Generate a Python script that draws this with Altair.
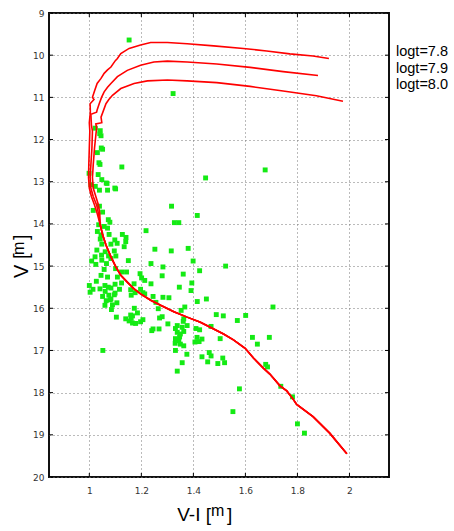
import altair as alt
import pandas as pd

# ---------------- data ----------------
star_vi = [1.153, 1.322, 1.023, 1.042, 1.045, 1.051, 1.031, 1.041, 1.125, 1.676,
           0.999, 1.034, 1.447, 1.048, 1.068, 1.006, 1.023, 1.101, 1.039, 1.070,
           1.316, 1.415, 1.015, 1.039, 1.051, 1.327, 1.344, 1.073, 1.079, 1.036,
           1.057, 1.070, 1.218, 1.031, 1.045, 1.076, 1.127, 1.141, 1.140, 1.042,
           1.048, 1.083, 1.098, 1.107, 1.134, 1.380, 1.252, 1.315, 1.029, 1.061,
           1.096, 1.047, 1.074, 1.102, 1.022, 1.048, 1.083, 1.009, 1.150, 1.399,
           1.025, 1.066, 1.237, 1.524, 1.283, 1.057, 1.101, 1.124, 1.143, 1.424,
           1.361, 1.195, 1.045, 1.070, 1.108, 1.280, 1.201, 1.213, 1.027, 1.124,
           1.394, 1.000, 1.060, 1.099, 1.172, 1.237, 1.346, 1.073, 1.041, 1.083,
           1.014, 1.116, 1.159, 1.197, 1.391, 1.003, 1.061, 1.099, 1.176, 1.206,
           1.213, 1.075, 1.096, 1.161, 1.051, 1.245, 1.283, 1.306, 1.450, 1.080,
           1.065, 1.083, 1.415, 1.106, 1.256, 1.089, 1.060, 1.173, 1.367, 1.706,
           1.265, 1.353, 1.085, 1.185, 1.488, 1.601, 1.515, 1.159, 1.166, 1.280,
           1.104, 1.270, 1.140, 1.161, 1.206, 1.569, 1.153, 1.197, 1.166, 1.178,
           1.363, 1.361, 1.302, 1.338, 1.331, 1.357, 1.376, 1.410, 1.468, 1.245,
           1.240, 1.268, 1.424, 1.338, 1.350, 1.363, 1.627, 1.692, 1.503, 1.331,
           1.347, 1.414, 1.433, 1.344, 1.406, 1.422, 1.646, 1.330, 1.350, 1.363,
           1.052, 1.331, 1.461, 1.433, 1.468, 1.375, 1.513, 1.455, 1.357, 1.494,
           1.520, 1.678, 1.685, 1.338, 1.736, 1.781, 1.577, 1.552, 1.800, 1.827,
           1.040, 1.046, 1.037, 1.065, 1.098]
star_v = [9.64, 10.91, 11.73, 11.79, 11.91, 12.23, 12.31, 12.59, 12.65, 12.72,
          12.80, 12.83, 12.91, 12.95, 13.04, 13.07, 13.11, 13.17, 13.20, 13.20,
          13.58, 13.80, 13.68, 13.58, 13.72, 13.97, 13.97, 13.90, 13.96, 14.02,
          14.06, 14.10, 14.16, 14.18, 14.26, 14.25, 14.25, 14.32, 14.42, 14.36,
          14.48, 14.48, 14.38, 14.46, 14.54, 14.58, 14.60, 14.64, 14.62, 14.66,
          14.64, 14.74, 14.76, 14.76, 14.78, 14.86, 14.82, 14.88, 14.87, 14.88,
          14.96, 14.94, 14.94, 15.00, 15.02, 15.08, 15.06, 15.14, 15.14, 15.11,
          15.19, 15.18, 15.22, 15.26, 15.26, 15.23, 15.28, 15.34, 15.36, 15.40,
          15.40, 15.46, 15.46, 15.43, 15.42, 15.42, 15.50, 15.50, 15.54, 15.52,
          15.55, 15.55, 15.56, 15.55, 15.58, 15.62, 15.60, 15.64, 15.63, 15.63,
          15.66, 15.69, 15.68, 15.69, 15.72, 15.72, 15.74, 15.75, 15.78, 15.80,
          15.82, 15.78, 15.84, 15.87, 15.86, 15.92, 15.93, 16.00, 15.97, 15.97,
          16.01, 16.05, 16.03, 16.11, 16.15, 16.17, 16.18, 16.16, 16.18, 16.20,
          16.21, 16.23, 16.25, 16.24, 16.27, 16.29, 16.30, 16.32, 16.35, 16.36,
          16.25, 16.31, 16.37, 16.41, 16.48, 16.45, 16.41, 16.48, 16.43, 16.49,
          16.53, 16.49, 16.51, 16.57, 16.61, 16.55, 16.69, 16.69, 16.72, 16.72,
          16.68, 16.69, 16.73, 16.77, 16.80, 16.79, 16.85, 16.83, 16.85, 16.89,
          17.00, 17.00, 17.05, 17.15, 17.13, 17.09, 17.18, 17.27, 17.29, 17.31,
          17.29, 17.33, 17.39, 17.49, 17.85, 18.10, 17.91, 18.45, 18.74, 18.96,
          11.86, 12.20, 12.55, 13.03, 13.15]

# common lower main sequence (faint -> bright)
ms_vi = [1.990, 1.924, 1.860, 1.797, 1.784, 1.759, 1.733, 1.694, 1.669, 1.631,
         1.599, 1.554, 1.516, 1.465, 1.427, 1.376, 1.325, 1.274, 1.236, 1.197,
         1.172, 1.146, 1.121, 1.102, 1.083, 1.064, 1.051, 1.042]
ms_v = [19.45, 18.96, 18.57, 18.28, 18.16, 17.96, 17.84, 17.56, 17.42, 17.18,
        16.95, 16.75, 16.61, 16.45, 16.33, 16.21, 16.08, 15.93, 15.81, 15.66,
        15.54, 15.38, 15.22, 15.02, 14.78, 14.50, 14.26, 14.02]

# upper parts of each isochrone (turn-off -> giant tip)
up78_vi = [1.030, 1.020, 1.008, 1.000, 0.997, 0.998, 1.000, 1.002, 1.000, 1.004,
           1.003, 1.018, 1.012, 1.020, 1.030, 1.045, 1.057, 1.070, 1.083, 1.100,
           1.108, 1.121, 1.153, 1.197, 1.236, 1.300, 1.376, 1.478, 1.592, 1.682,
           1.771, 1.860, 1.921]
up78_v = [13.75, 13.55, 13.35, 13.15, 12.90, 12.60, 12.20, 11.80, 11.60, 11.35,
          11.15, 11.05, 11.00, 10.85, 10.67, 10.55, 10.43, 10.35, 10.28, 10.13,
          10.08, 9.96, 9.84, 9.76, 9.70, 9.70, 9.73, 9.78, 9.84, 9.90,
          9.97, 10.02, 10.08]
up79_vi = [1.035, 1.028, 1.015, 1.006, 1.003, 1.006, 1.010, 1.012, 1.008, 1.006,
           1.028, 1.030, 1.038, 1.047, 1.057, 1.070, 1.083, 1.108, 1.146, 1.197,
           1.248, 1.300, 1.376, 1.490, 1.618, 1.745, 1.879]
up79_v = [13.75, 13.55, 13.35, 13.15, 12.90, 12.60, 12.20, 11.80, 11.65, 11.40,
          11.35, 11.30, 11.15, 11.00, 10.87, 10.76, 10.67, 10.51, 10.36, 10.24,
          10.16, 10.14, 10.16, 10.21, 10.29, 10.39, 10.48]
up80_vi = [1.040, 1.035, 1.025, 1.015, 1.012, 1.015, 1.020, 1.025, 1.028, 1.025,
           1.048, 1.045, 1.064, 1.075, 1.089, 1.121, 1.172, 1.223, 1.300, 1.376,
           1.490, 1.618, 1.745, 1.873, 1.975]
up80_v = [13.75, 13.55, 13.35, 13.15, 12.90, 12.60, 12.20, 11.90, 11.72, 11.63,
          11.60, 11.47, 11.15, 11.05, 10.95, 10.79, 10.67, 10.61, 10.59, 10.61,
          10.65, 10.74, 10.85, 10.96, 11.09]

iso_labels = ["logt=7.8", "logt=7.9", "logt=8.0"]
x_ticks = [1, 1.2, 1.4, 1.6, 1.8, 2]
y_ticks = [9, 10, 11, 12, 13, 14, 15, 16, 17, 18, 19, 20]

# ---------------- tables ----------------
rows = []
for name, ux, uy in [(iso_labels[0], up78_vi, up78_v),
                     (iso_labels[1], up79_vi, up79_v),
                     (iso_labels[2], up80_vi, up80_v)]:
    xs = ms_vi + ux
    ys = ms_v + uy
    for i, (a, b) in enumerate(zip(xs, ys)):
        rows.append({"iso": name, "vi": a, "v": b, "ord": i})
iso_df = pd.DataFrame(rows)
stars_df = pd.DataFrame({"vi": star_vi, "v": star_v})
xt_df = pd.DataFrame({"vi": x_ticks})
yt_df = pd.DataFrame({"v": y_ticks})
one = pd.DataFrame({"a": [0]})

W, H = 340, 464
xscale = alt.Scale(domain=[0.845, 2.152], nice=False, zero=False)
yscale = alt.Scale(domain=[9, 20], reverse=True, nice=False, zero=False)

axis_common = dict(grid=True, gridDash=[1, 3], gridColor="#777777", gridWidth=1,
                   ticks=False, domain=False, labelFont="DejaVu Sans",
                   labelFontSize=9, labelColor="#333333", title=None)
xaxis = alt.Axis(values=x_ticks, format="~g", labelPadding=9, **axis_common)
yaxis = alt.Axis(values=y_ticks, format="d", labelPadding=5, **axis_common)

X = alt.X("vi:Q", scale=xscale, axis=xaxis)
Y = alt.Y("v:Q", scale=yscale, axis=yaxis)

stars = alt.Chart(stars_df).mark_square(size=24, color="#14ea14", opacity=1).encode(x=X, y=Y)

lines = alt.Chart(iso_df).mark_line(color="#ff0000", strokeWidth=1.6).encode(
    x=X, y=Y, detail="iso:N", order="ord:Q")

tick_style = dict(color="black", strokeWidth=1)
xt_bot = alt.Chart(xt_df).mark_rule(**tick_style).encode(
    x=X, y=alt.value(H), y2=alt.value(H - 4))
xt_top = alt.Chart(xt_df).mark_rule(**tick_style).encode(
    x=X, y=alt.value(0), y2=alt.value(4))
yt_left = alt.Chart(yt_df).mark_rule(**tick_style).encode(
    y=Y, x=alt.value(0), x2=alt.value(4))
yt_right = alt.Chart(yt_df).mark_rule(**tick_style).encode(
    y=Y, x=alt.value(W - 4), x2=alt.value(W))

def txt(s, x, y, size, align="left", angle=0, baseline="alphabetic"):
    kw = dict(text=s, font="Liberation Sans", fontSize=size, color="black",
              align=align, baseline=baseline)
    if angle:
        kw["angle"] = angle
    return alt.Chart(one).mark_text(**kw).encode(x=alt.value(x), y=alt.value(y))

# page -> plot offsets: left 49, top 13
OX, OY = 49, 13
texts = [
    # x title  V-I [m]
    txt("V-I [", 211 - OX, 521 - OY, 19, align="right"),
    txt("m", 211 - OX, 516 - OY, 16),
    txt("]", 227 - OX, 521 - OY, 19),
    # y title  V [m] (rotated)
    txt("V [", 28 - OX, 278 - OY, 20, angle=270),
    txt("m", 24 - OX, 255 - OY, 16, angle=270),
    txt("]", 28 - OX, 240 - OY, 20, angle=270),
    # legend labels
    txt(iso_labels[0], 396 - OX, 52 - OY, 14.5, baseline="middle"),
    txt(iso_labels[1], 396 - OX, 69 - OY, 14.5, baseline="middle"),
    txt(iso_labels[2], 396 - OX, 85 - OY, 14.5, baseline="middle"),
]

chart = alt.layer(stars, lines, xt_bot, xt_top, yt_left, yt_right, *texts).properties(
    width=W, height=H,
    autosize=alt.AutoSizeParams(type="none"),
    padding={"left": OX, "top": OY, "right": 454 - OX - W, "bottom": 531 - OY - H},
    background="white",
).configure_view(stroke="#111111", strokeWidth=2)

chart.save("out.html", embed_options={"renderer": "svg", "actions": False})
